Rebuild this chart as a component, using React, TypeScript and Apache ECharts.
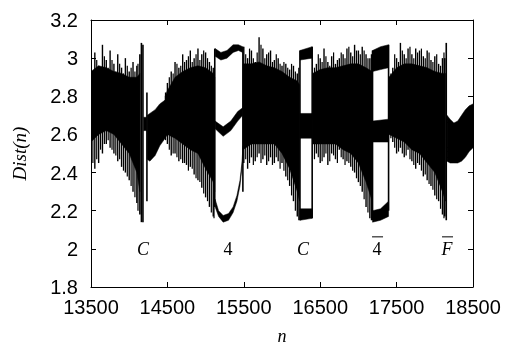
import React, { useEffect, useRef } from "react";
import * as echarts from "echarts";

// ---------- data ----------
// chaotic spikes: [n, low, high]
const chaosSpikes: number[][] = [
  [13500, 2.40, 2.98], [13550, 2.42, 3.03], [13600, 2.45, 2.96], [13650, 2.50, 3.07],
  [13700, 2.55, 2.99], [13750, 2.53, 3.04], [13800, 2.50, 2.97], [13850, 2.46, 3.02],
  [13900, 2.43, 2.95], [13950, 2.40, 3.00], [14000, 2.36, 2.93], [14050, 2.30, 2.98],
  [14100, 2.24, 2.96],
  [14500, 2.55, 2.87], [14550, 2.49, 2.93], [14600, 2.50, 2.98], [14650, 2.46, 2.95],
  [14700, 2.45, 3.02], [14750, 2.44, 2.99], [14800, 2.43, 3.04], [14850, 2.39, 3.00],
  [14900, 2.36, 3.05], [14950, 2.32, 3.02], [15000, 2.27, 3.03], [15050, 2.22, 2.98],
  [15100, 2.17, 2.95],
  [15500, 2.45, 3.06], [15550, 2.42, 3.00], [15600, 2.48, 3.04], [15650, 2.46, 2.98],
  [15700, 2.50, 3.11], [15750, 2.47, 3.05], [15800, 2.44, 3.02], [15850, 2.48, 3.04],
  [15900, 2.45, 2.99], [15950, 2.46, 3.00], [16000, 2.45, 2.96], [16050, 2.38, 2.97],
  [16100, 2.33, 2.94], [16150, 2.25, 2.96], [16200, 2.17, 2.92],
  [16450, 2.50, 2.97], [16500, 2.45, 3.00], [16550, 2.48, 3.05], [16600, 2.44, 2.98],
  [16650, 2.50, 3.01], [16700, 2.47, 2.97], [16750, 2.52, 3.00], [16800, 2.47, 3.02],
  [16850, 2.46, 3.05], [16900, 2.43, 3.03], [16950, 2.40, 3.07], [17000, 2.35, 3.04],
  [17050, 2.30, 3.06], [17100, 2.22, 3.02], [17150, 2.16, 3.00],
  [17450, 2.56, 2.95], [17500, 2.50, 3.00], [17550, 2.53, 3.08], [17600, 2.48, 3.02],
  [17650, 2.52, 3.05], [17700, 2.46, 3.02], [17750, 2.42, 3.05], [17800, 2.44, 3.04],
  [17850, 2.38, 3.01], [17900, 2.36, 3.04], [17950, 2.33, 2.99], [18000, 2.28, 3.01],
  [18050, 2.25, 2.97], [18100, 2.18, 3.00],
];

// in-between spikes of the chaotic regions: [n, low, high]
const chaosSpikesMid: number[][] = [
  [13525, 2.45, 2.92], [13575, 2.47, 2.99], [13625, 2.52, 2.94], [13675, 2.55, 3.01],
  [13725, 2.57, 2.95], [13775, 2.52, 2.99], [13825, 2.49, 2.93], [13875, 2.47, 2.97],
  [13925, 2.41, 2.92], [13975, 2.38, 2.96], [14025, 2.33, 2.95], [14075, 2.27, 2.93],
  [14115, 2.20, 2.97],
  [14475, 2.57, 2.82], [14525, 2.52, 2.90], [14575, 2.50, 2.92], [14625, 2.48, 2.97],
  [14675, 2.47, 2.96], [14725, 2.45, 2.98], [14775, 2.41, 3.01], [14825, 2.42, 2.98],
  [14875, 2.37, 3.02], [14925, 2.35, 2.99], [14975, 2.29, 3.04], [15025, 2.25, 3.00],
  [15075, 2.19, 2.96], [15110, 2.16, 2.93],
  [15525, 2.47, 3.02], [15575, 2.45, 3.05], [15625, 2.44, 3.00], [15675, 2.48, 3.03],
  [15725, 2.45, 3.07], [15775, 2.49, 3.00], [15825, 2.46, 3.03], [15875, 2.44, 2.98],
  [15925, 2.48, 3.02], [15975, 2.42, 2.97], [16025, 2.41, 2.98], [16075, 2.36, 2.95],
  [16125, 2.28, 2.97], [16175, 2.20, 2.93], [16220, 2.15, 2.95],
  [16425, 2.47, 2.95], [16475, 2.48, 3.02], [16525, 2.46, 2.98], [16575, 2.50, 3.01],
  [16625, 2.46, 2.96], [16675, 2.49, 3.03], [16725, 2.45, 2.99], [16775, 2.48, 3.03],
  [16825, 2.44, 3.00], [16875, 2.45, 3.06], [16925, 2.41, 3.01], [16975, 2.37, 3.04],
  [17025, 2.33, 3.02], [17075, 2.26, 3.04], [17125, 2.19, 3.00], [17170, 2.15, 3.02],
  [17425, 2.58, 2.92], [17475, 2.53, 3.02], [17525, 2.51, 2.98], [17575, 2.50, 3.04],
  [17625, 2.49, 3.00], [17675, 2.47, 3.06], [17725, 2.44, 3.00], [17775, 2.45, 3.03],
  [17825, 2.41, 3.05], [17875, 2.39, 3.00], [17925, 2.34, 3.03], [17975, 2.31, 2.98],
  [18025, 2.26, 3.02], [18075, 2.21, 2.96], [18120, 2.16, 3.03],
];

// edges / transient columns at the windows: [n, low, high]
const windowEdges: number[][] = [
  [14140, 2.18, 3.02], [14160, 2.14, 3.08], [14180, 2.14, 3.07], [14232, 2.25, 2.82],
  [15120, 2.22, 3.05], [15488, 2.30, 3.06],
  [16235, 2.15, 3.04], [16395, 2.16, 3.06],
  [17185, 2.15, 3.04], [17395, 2.20, 3.07],
  [18130, 2.17, 3.00], [18150, 2.15, 3.08],
];

// dense cores of the chaotic regions: [n, low, high]
const coreA = [[13500, 2.56, 2.93], [13600, 2.60, 2.96], [13700, 2.62, 2.95], [13800, 2.60, 2.93], [13900, 2.55, 2.92], [14000, 2.50, 2.90], [14100, 2.40, 2.90], [14140, 2.30, 2.92]];
const coreC = [[14470, 2.58, 2.80], [14500, 2.60, 2.83], [14600, 2.58, 2.90], [14700, 2.55, 2.93], [14800, 2.52, 2.95], [14900, 2.50, 2.96], [15000, 2.42, 2.95], [15100, 2.35, 2.92], [15120, 2.30, 2.90]];
const coreD = [[15490, 2.52, 2.97], [15600, 2.55, 2.97], [15700, 2.55, 2.98], [15800, 2.55, 2.96], [15900, 2.55, 2.95], [16000, 2.50, 2.93], [16100, 2.42, 2.90], [16200, 2.30, 2.88], [16230, 2.25, 2.86]];
const coreE = [[16400, 2.55, 2.92], [16500, 2.55, 2.94], [16600, 2.55, 2.95], [16700, 2.55, 2.95], [16800, 2.52, 2.96], [16900, 2.50, 2.97], [17000, 2.45, 2.97], [17100, 2.35, 2.95], [17180, 2.25, 2.93]];
const coreF = [[17400, 2.60, 2.90], [17500, 2.58, 2.95], [17600, 2.56, 2.97], [17700, 2.52, 2.97], [17800, 2.50, 2.96], [17900, 2.45, 2.95], [18000, 2.40, 2.93], [18100, 2.30, 2.92], [18140, 2.25, 2.92]];

// periodic window bands: [n, low, high]
const c1Mid = [[14190, 2.62, 2.69], [14228, 2.62, 2.69]];
const wedge = [[14235, 2.47, 2.70], [14270, 2.46, 2.71], [14340, 2.49, 2.73], [14400, 2.54, 2.76], [14470, 2.58, 2.78]];
const top4 = [[15125, 3.01, 3.05], [15200, 2.99, 3.03], [15280, 3.00, 3.04], [15360, 3.03, 3.07], [15430, 3.04, 3.07], [15485, 3.03, 3.06]];
const mid4 = [[15125, 2.63, 2.67], [15230, 2.59, 2.64], [15330, 2.62, 2.67], [15420, 2.67, 2.72], [15485, 2.70, 2.74]];
const bot4 = [[15125, 2.22, 2.26], [15170, 2.17, 2.20], [15230, 2.14, 2.175], [15300, 2.15, 2.185], [15360, 2.19, 2.22], [15410, 2.25, 2.28], [15450, 2.33, 2.36], [15475, 2.42, 2.45], [15490, 2.50, 2.54]];
const topC2 = [[16235, 2.99, 3.04], [16395, 3.00, 3.06]];
const midC2 = [[16235, 2.58, 2.71], [16395, 2.58, 2.71]];
const botC2 = [[16235, 2.15, 2.21], [16395, 2.16, 2.21]];
const top4b = [[17185, 2.93, 3.04], [17290, 2.94, 3.06], [17395, 2.95, 3.07]];
const mid4b = [[17185, 2.56, 2.67], [17395, 2.56, 2.68]];
const bot4b = [[17185, 2.14, 2.20], [17290, 2.15, 2.21], [17395, 2.17, 2.25]];
const fBand = [[18160, 2.46, 2.70], [18200, 2.45, 2.68], [18250, 2.45, 2.66], [18300, 2.45, 2.67], [18350, 2.46, 2.70], [18400, 2.48, 2.73], [18450, 2.51, 2.75], [18500, 2.53, 2.76]];

const polygons = [coreA, coreC, coreD, coreE, coreF, c1Mid, wedge, top4, mid4, bot4, topC2, midC2, botC2, top4b, mid4b, bot4b, fBand];

// window labels
const labelN = [14181, 15293, 16275, 17244, 18160];
const labelText = ["C", "4", "C", "4", "F"];
const labelItalic = [true, false, true, false, true];
const labelBar = [false, false, false, true, true];
const labelY = 2.0;

const xTicks = { min: 13500, max: 18500, interval: 1000 };
const yTicks = { min: 1.8, max: 3.2, interval: 0.2 };

export default function App() {
  const ref = useRef<HTMLDivElement>(null);
  useEffect(() => {
    if (!ref.current) return;
    const chart = echarts.init(ref.current, null, { renderer: "svg" });
    const axisFont = "Liberation Sans";
    const serif = "Liberation Serif";
    const colRender = (w: number) => (params: any, api: any) => {
      const n = api.value(0);
      const p1 = api.coord([n, api.value(2)]);
      const p2 = api.coord([n, api.value(1)]);
      return {
        type: "rect",
        shape: { x: p1[0] - w / 2, y: p1[1], width: w, height: p2[1] - p1[1] },
        style: { fill: "#000" },
      };
    };
    const option: any = {
      animation: false,
      grid: { left: 91, right: 35, top: 20, bottom: 60, containLabel: false, outerBoundsMode: "none" },
      xAxis: [
        {
          type: "value", ...xTicks, position: "bottom",
          axisLine: { show: true, lineStyle: { color: "#000", width: 1 } },
          axisTick: { show: true, inside: true, length: 5, lineStyle: { color: "#000" } },
          axisLabel: { color: "#000", fontSize: 20, fontFamily: axisFont, margin: 10, formatter: (v: number) => String(v) },
          splitLine: { show: false },
          name: "n", nameLocation: "middle", nameGap: 40,
          nameTextStyle: { color: "#000", fontSize: 18, lineHeight: 18, fontStyle: "italic", fontFamily: serif },
        },
        {
          type: "value", ...xTicks, position: "top",
          axisLine: { show: true, onZero: false, lineStyle: { color: "#000", width: 1 } },
          axisTick: { show: true, inside: true, length: 5, lineStyle: { color: "#000" } },
          axisLabel: { show: false }, splitLine: { show: false },
        },
      ],
      yAxis: [
        {
          type: "value", ...yTicks, position: "left",
          axisLine: { show: true, lineStyle: { color: "#000", width: 1 } },
          axisTick: { show: true, inside: true, length: 5, lineStyle: { color: "#000" } },
          axisLabel: {
            color: "#000", fontSize: 20, fontFamily: axisFont, margin: 13,
            formatter: (v: number) => String(Math.round(v * 10) / 10),
          },
          splitLine: { show: false },
          name: "Dist(n)", nameLocation: "middle", nameGap: 62,
          nameTextStyle: { color: "#000", fontSize: 19, fontStyle: "italic", fontFamily: serif },
        },
        {
          type: "value", ...yTicks, position: "right",
          axisLine: { show: true, onZero: false, lineStyle: { color: "#000", width: 1 } },
          axisTick: { show: true, inside: true, length: 5, lineStyle: { color: "#000" } },
          axisLabel: { show: false }, splitLine: { show: false },
        },
      ],
      series: [
        {
          type: "custom", xAxisIndex: 0, yAxisIndex: 0, clip: true,
          data: polygons.map((p, i) => [p[0][0], p[0][1], i]),
          renderItem: (params: any, api: any) => {
            const band = polygons[api.value(2)];
            const pts: number[][] = [];
            band.forEach((q) => pts.push(api.coord([q[0], q[2]])));
            for (let k = band.length - 1; k >= 0; k--) pts.push(api.coord([band[k][0], band[k][1]]));
            return { type: "polygon", shape: { points: pts }, style: { fill: "#000", stroke: "#000", lineWidth: 0.5 } };
          },
        },
        {
          type: "custom", xAxisIndex: 0, yAxisIndex: 0, clip: true,
          data: chaosSpikes, renderItem: colRender(1.4),
        },
        {
          type: "custom", xAxisIndex: 0, yAxisIndex: 0, clip: true,
          data: chaosSpikesMid, renderItem: colRender(1.2),
        },
        {
          type: "custom", xAxisIndex: 0, yAxisIndex: 0, clip: true,
          data: windowEdges, renderItem: colRender(1.6),
        },
        {
          type: "custom", xAxisIndex: 0, yAxisIndex: 0,
          data: labelN.map((n, i) => [n, labelY, i]),
          renderItem: (params: any, api: any) => {
            const i = api.value(2);
            const p = api.coord([api.value(0), api.value(1)]);
            const children: any[] = [
              {
                type: "text", x: p[0], y: p[1],
                style: {
                  text: labelText[i], fill: "#000", align: "center", verticalAlign: "middle",
                  fontFamily: serif, fontSize: 18, fontStyle: labelItalic[i] ? "italic" : "normal",
                },
              },
            ];
            if (labelBar[i]) {
              children.push({
                type: "line",
                shape: { x1: p[0] - 5, y1: p[1] - 12, x2: p[0] + 6, y2: p[1] - 12 },
                style: { stroke: "#000", lineWidth: 1 },
              });
            }
            return { type: "group", children };
          },
        },
      ],
    };
    chart.setOption(option);
    return () => chart.dispose();
  }, []);
  return <div ref={ref} style={{ position: "fixed", left: 0, top: 0, width: 508, height: 347 }} />;
}
